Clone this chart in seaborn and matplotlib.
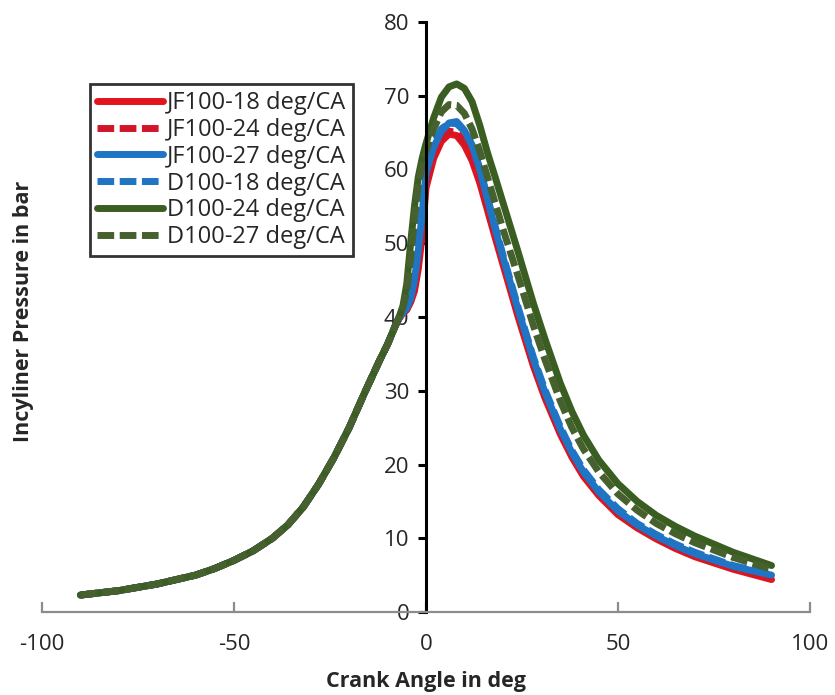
import matplotlib
matplotlib.use("Agg")
import matplotlib.pyplot as plt
import seaborn as sns
import pandas as pd

# Crank angle grid (deg) shared by all runs
angle = [-90, -80, -70, -60, -55, -50, -45, -40, -36, -32, -28, -24, -20, -16, -12, -10,
         -8, -7, -6, -5, -4, -3, -2, -1, 0,
         2, 4, 6, 8, 10, 12, 14,
         16, 18, 20, 24, 28, 31, 35, 38, 41, 45, 50, 55, 60, 65, 70, 80, 90]

# compression part, identical for every run (-90 .. -10 deg)
compression = [2.3, 2.9, 3.8, 5.0, 5.9, 7.0, 8.3, 10.0, 11.8, 14.2, 17.3, 20.9,
               25.0, 29.7, 34.2, 36.3]

# cylinder pressure (bar) from -8 deg on
jf100_18 = [38.8, 39.8, 40.5, 41.0, 42.0, 43.5, 46.5, 51.0, 57.5,
            61.5, 63.8, 64.8, 64.6, 63.3, 61.2, 58.2,
            54.5, 50.8, 47.2, 40.0, 33.3, 29.0, 24.1, 21.0, 18.4, 15.8, 13.2,
            11.4, 9.9, 8.6, 7.5, 5.8, 4.4]
jf100_24 = [38.8, 39.8, 40.5, 41.0, 42.2, 44.0, 47.5, 52.5, 58.3,
            62.0, 64.3, 65.2, 65.0, 63.8, 61.8, 58.8,
            55.0, 51.3, 47.7, 40.5, 33.6, 29.3, 24.4, 21.3, 18.7, 16.1, 13.5,
            11.6, 10.1, 8.8, 7.7, 6.0, 4.6]
jf100_27 = [38.8, 39.9, 40.6, 41.2, 42.5, 45.0, 49.0, 54.0, 59.5,
            63.0, 65.2, 66.3, 66.5, 65.3, 63.3, 60.0,
            56.0, 52.0, 48.2, 41.0, 34.2, 29.8, 24.8, 21.6, 19.0, 16.3, 13.7,
            11.8, 10.3, 9.0, 7.9, 6.2, 5.0]
d100_18 = [38.8, 39.9, 40.8, 42.0, 44.0, 48.0, 56.0, 60.5, 61.0,
           63.5, 65.5, 66.3, 66.2, 65.2, 63.3, 60.2,
           56.3, 52.3, 48.5, 41.3, 34.5, 30.1, 25.1, 21.9, 19.3, 16.6, 14.0,
           12.0, 10.5, 9.2, 8.1, 6.3, 5.1]
d100_24 = [38.8, 40.0, 41.5, 44.5, 50.0, 55.0, 59.0, 61.5, 63.5,
           67.0, 69.8, 71.2, 71.6, 71.0, 69.2, 66.0,
           62.3, 59.0, 55.6, 48.8, 41.8, 37.0, 31.0, 27.2, 24.0, 20.6, 17.4,
           15.0, 13.1, 11.6, 10.3, 8.1, 6.3]
d100_27 = [38.8, 40.0, 41.3, 43.5, 48.0, 53.5, 58.0, 60.5, 62.5,
           65.5, 67.8, 68.8, 68.7, 67.6, 65.5, 62.5,
           59.0, 55.5, 52.0, 45.5, 38.8, 34.2, 28.6, 25.0, 22.1, 19.0, 16.0,
           13.8, 12.0, 10.6, 9.4, 7.4, 5.8]

labels = ["JF100-18 deg/CA", "JF100-24 deg/CA", "JF100-27 deg/CA",
          "D100-18 deg/CA", "D100-24 deg/CA", "D100-27 deg/CA"]
colors = ["#E3141C", "#D01628", "#1F74C4", "#1F74C4", "#3A5E22", "#46602E"]
dashed = [False, True, False, True, False, True]

sns.set_style("white")
plt.rcParams["font.family"] = ["Open Sans", "DejaVu Sans"]
plt.rcParams["axes.unicode_minus"] = False

fig = plt.figure(figsize=(8.35, 6.95), dpi=100)
ax = fig.add_axes([0.0503, 0.1194, 0.9197, 0.849])

series = [jf100_18, jf100_24, jf100_27, d100_18, d100_24, d100_27]
for lab, col, dsh, tail in zip(labels, colors, dashed, series):
    df = pd.DataFrame({"angle": angle, "pressure": compression + tail})
    ls = (0, (2.4, 0.8)) if dsh else "-"
    sns.lineplot(data=df, x="angle", y="pressure", ax=ax, color=col,
                 linewidth=5, linestyle=ls, label=lab, sort=False)

ax.set_xlim(-100, 100)
ax.set_ylim(0, 80)
ax.set_xticks(range(-100, 101, 50))
ax.set_yticks(range(0, 81, 10))

ax.spines["top"].set_visible(False)
ax.spines["right"].set_visible(False)
ax.spines["left"].set_position(("data", 0))
ax.spines["left"].set_color("black")
ax.spines["left"].set_linewidth(2.2)
ax.spines["bottom"].set_color("#8c8c8c")
ax.spines["bottom"].set_linewidth(1.6)

ax.tick_params(axis="x", direction="in", length=7, width=1.6, color="#8c8c8c",
               labelsize=16, pad=16, bottom=True)
ax.tick_params(axis="y", direction="out", length=6, width=2.2, color="black",
               labelsize=16, pad=6, left=True)

ax.set_xlabel("Crank Angle in deg", fontsize=15.5, fontweight="bold", labelpad=11)
ax.set_ylabel("Incyliner Pressure in bar", fontsize=15.5, fontweight="bold")
ax.yaxis.set_label_coords(-0.01, 0.51)

leg = ax.legend(loc="upper left", bbox_to_anchor=(0.0625, 0.895), fontsize=17,
                frameon=True, fancybox=False, handlelength=2.8, handletextpad=0.15,
                labelspacing=0.12, borderpad=0.3, borderaxespad=0)
leg.get_frame().set_edgecolor("black")
leg.get_frame().set_linewidth(2)
for h in leg.get_lines():
    h.set_linewidth(5)

fig.savefig("out.png", dpi=100)
